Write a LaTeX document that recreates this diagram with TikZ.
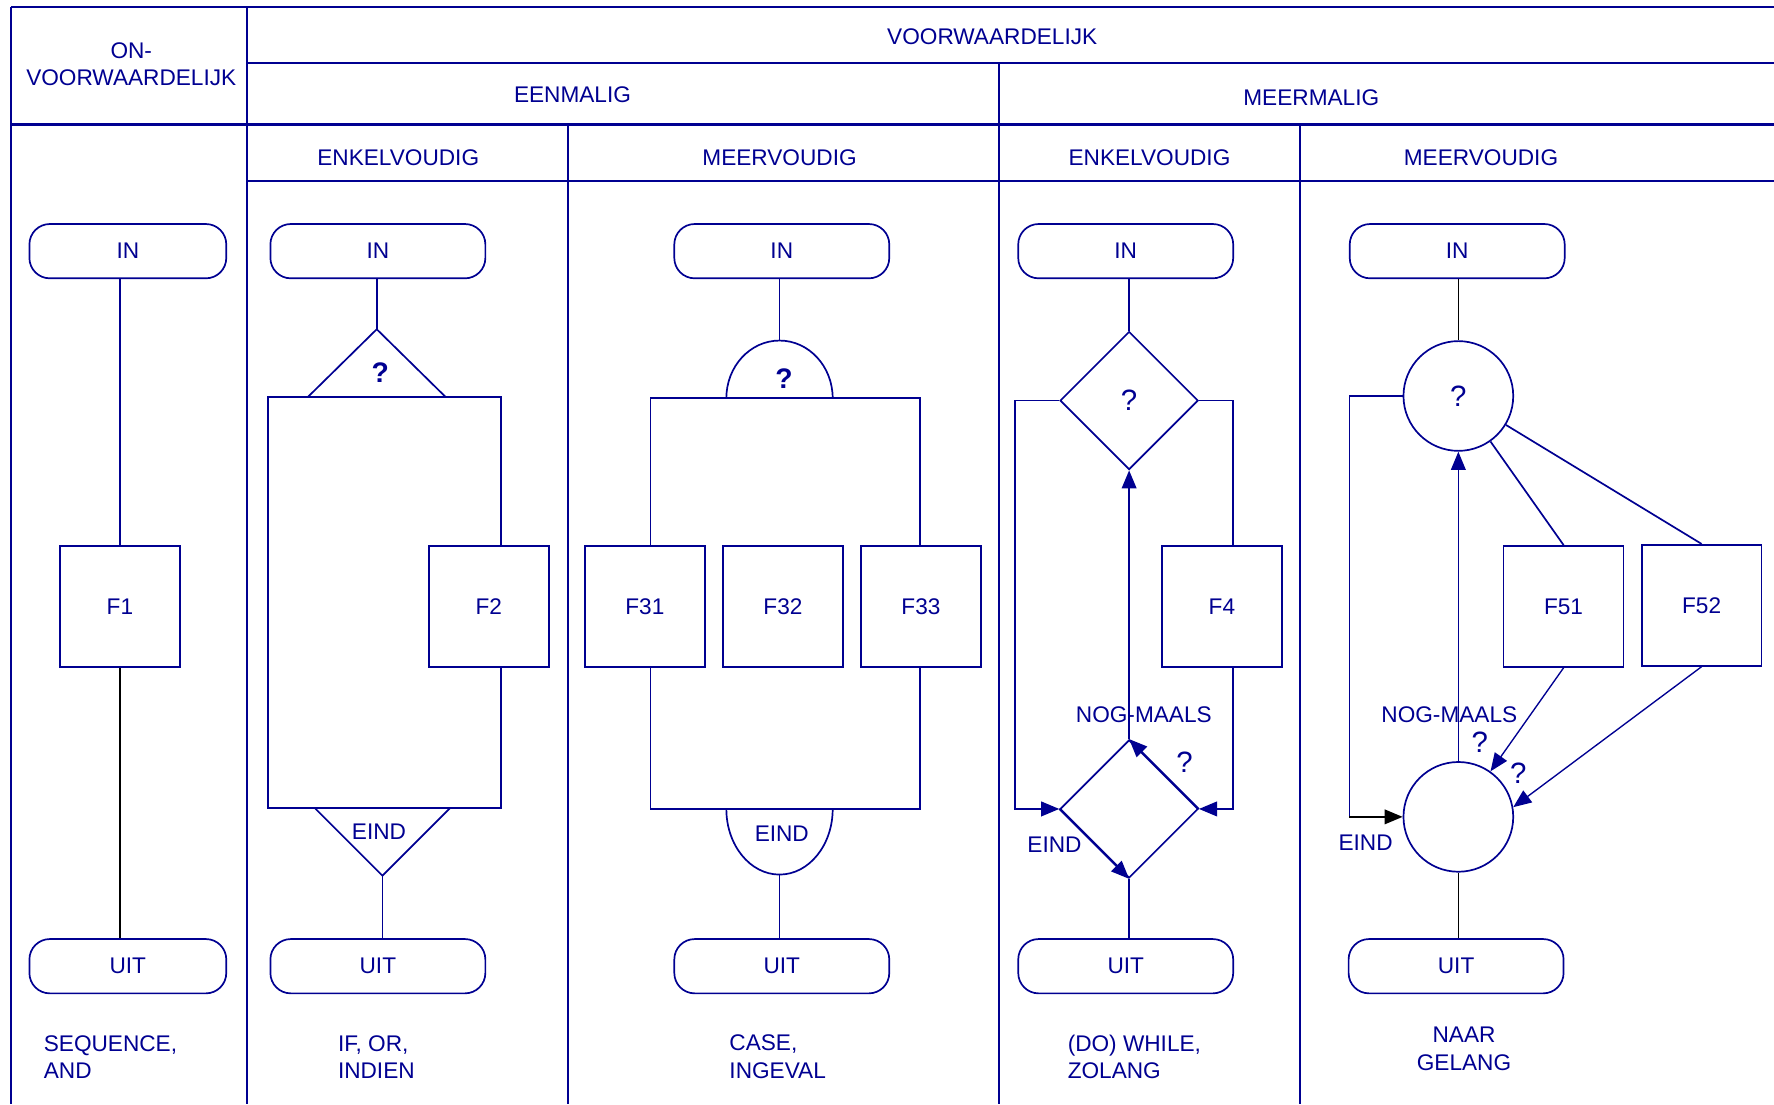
\documentclass[tikz,border=0pt]{standalone}
\usepackage{fontspec}
\setmainfont{Liberation Sans}
\usetikzlibrary{shapes.geometric,arrows.meta}
\definecolor{dblue}{RGB}{0,0,145}

\begin{document}
\begin{tikzpicture}[x=0.5pt,y=0.5pt,yscale=-1,color=dblue,line width=0.75pt,
  term/.style={draw,fill=white,rounded corners=9pt,minimum width=95pt,minimum height=24pt},
  func/.style={draw,fill=white,minimum width=53pt,minimum height=53.5pt},
  ruit/.style={draw,diamond,aspect=1,minimum size=61pt,inner sep=0pt},
  rond/.style={draw,circle,minimum size=48.5pt,inner sep=0pt},
  vraag/.style={font=\fontsize{13}{15}\selectfont},
  vraagb/.style={font=\fontsize{12.5}{15}\selectfont\bfseries},
  pijl/.style={-{Triangle[length=8pt,width=6.5pt]}}]
\useasboundingbox (0,0) rectangle (1568,976);

%Shape: Table lines
\draw [line width=1pt] (10,6) -- (1568,6) (10,6) -- (10,976) (218,6) -- (218,976) ;
\draw [line width=1pt] (218,56) -- (1568,56) (10,110) -- (1568,110) (218,160) -- (1568,160) ;
\draw [line width=1pt] (883,56) -- (883,976) (502,110) -- (502,976) (1149,110) -- (1149,976) ;

% Text Node
\node [align=center] (hon) at (116,57) {ON-\\VOORWAARDELIJK};
\node (hvw) at (877,32) {VOORWAARDELIJK};
\node (heen) at (506,84) {EENMALIG};
\node (hmeer) at (1159,86) {MEERMALIG};
\node (henk1) at (352,139) {ENKELVOUDIG};
\node (hmv1) at (689,139) {MEERVOUDIG};
\node (henk2) at (1016,139) {ENKELVOUDIG};
\node (hmv2) at (1309,139) {MEERVOUDIG};

%Column: sequence
\node [term,minimum width=87pt] (in1) at (113,222) {IN};
\node [func] (f1) at (106,536) {F1};
\node [term,minimum width=87pt] (uit1) at (113,854) {UIT};
\draw (f1.north |- in1.south) -- (f1.north) ;
\draw [black] (f1.south) -- (f1.south |- uit1.north) ;

%Column: if
\node [term] (in2) at (334,222) {IN};
\coordinate (q2) at (333,291);
\draw (q2 |- in2.south) -- (q2) ;
\draw (q2) -- (272,351) -- (394,351) -- cycle ;
\node [vraagb] (v2) at (336,329) {?};
\draw (237,351) rectangle (443,714) ;
\node [func] (f2) at (432,536) {F2};
\coordinate (e2) at (338,774);
\draw (278,714) -- (e2) -- (398,714) ;
\node (eind2) at (335,735) {EIND};
\node [term] (uit2) at (334,854) {UIT};
\draw (e2) -- (e2 |- uit2.north) ;

%Column: case
\node [term] (in3) at (691,222) {IN};
\coordinate (q3) at (689,301);
\draw (642,352) arc [start angle=180,end angle=360,x radius=47,y radius=51] ;
\draw (q3 |- in3.south) -- (q3) ;
\node [vraagb] (v3) at (693,335) {?};
\draw (575,352) rectangle (813,715) ;
\node [func] (f31) at (570,536) {F31};
\node [func] (f32) at (692,536) {F32};
\node [func] (f33) at (814,536) {F33};
\coordinate (e3) at (689,773);
\draw (642,715) arc [start angle=180,end angle=0,x radius=47,y radius=58] ;
\node (eind3) at (691,737) {EIND};
\node [term] (uit3) at (691,854) {UIT};
\draw (e3) -- (e3 |- uit3.north) ;

%Column: while
\node [term] (in4) at (995,222) {IN};
\node [ruit,vraag] (d1) at (998,354) {?};
\node [func] (f4) at (1080,536) {F4};
\node [ruit] (d2) at (998,715) {};
\node [term] (uit4) at (995,854) {UIT};
\draw (d1.north |- in4.south) -- (d1.north) ;
\draw [pijl] (d1.west) -- ++(-39,0) |- (d2.west) ;
\draw (d1.east) -| ([xshift=5pt]f4.north) ;
\draw [pijl] ([xshift=5pt]f4.south) |- (d2.east) ;
\draw [pijl] (d2.west) -- (d2.south) ;
\draw [pijl] (d2.east) -- (d2.north) ;
\draw [pijl] (d2.north) -- (d1.south) ;
\draw (d2.south) -- (d2.south |- uit4.north) ;
\node (nm4) at (1011,632) {NOG-MAALS};
\node (eind4) at (932,747) {EIND};
\node [vraag] (v4) at (1047,674) {?};

%Column: naar gelang
\node [term] (in5) at (1288,222) {IN};
\node [rond,vraag] (c1) at (1289,350) {?};
\node [func] (f51) at (1382,536) {F51};
\node [func] (f52) at (1504,535) {F52};
\node [rond] (c2) at (1289,722) {};
\node [term] (uit5) at (1287,854) {UIT};
\draw [black] (c1.north |- in5.south) -- (c1.north) ;
\draw (c1.west) -- ++(-47,0) coordinate (l5) -- (l5 |- c2.west) ;
\draw [black,pijl] (l5 |- c2.west) -- (c2.west) ;
\draw [pijl,line width=0.6pt] (c2.north) -- (c1.south) ;
\draw (c1) -- (f51.north) ;
\draw (c1) -- (f52.north) ;
\draw [pijl,line width=0.6pt] (f51.south) -- (c2) ;
\draw [pijl,line width=0.6pt] (f52.south) -- (c2.10) ;
\draw [black] (c2.south) -- (c2.south |- uit5.north) ;
\node (nm5) at (1281,632) {NOG-MAALS};
\node [vraag] (v51) at (1308,656) {?};
\node [vraag] (v52) at (1342,683) {?};
\node (eind5) at (1207,745) {EIND};

% Text Node
\node [align=left,anchor=west,inner sep=0pt] (t1) at (38,934) {SEQUENCE,\\AND};
\node [align=left,anchor=west,inner sep=0pt] (t2) at (298,934) {IF, OR,\\INDIEN};
\node [align=left,anchor=west,inner sep=0pt] (t3) at (644,934) {CASE,\\INGEVAL};
\node [align=left,anchor=west,inner sep=0pt] (t4) at (943,934) {(DO) WHILE,\\ZOLANG};
\node [align=center] (t5) at (1294,927) {NAAR\\GELANG};

\end{tikzpicture}
\end{document}
